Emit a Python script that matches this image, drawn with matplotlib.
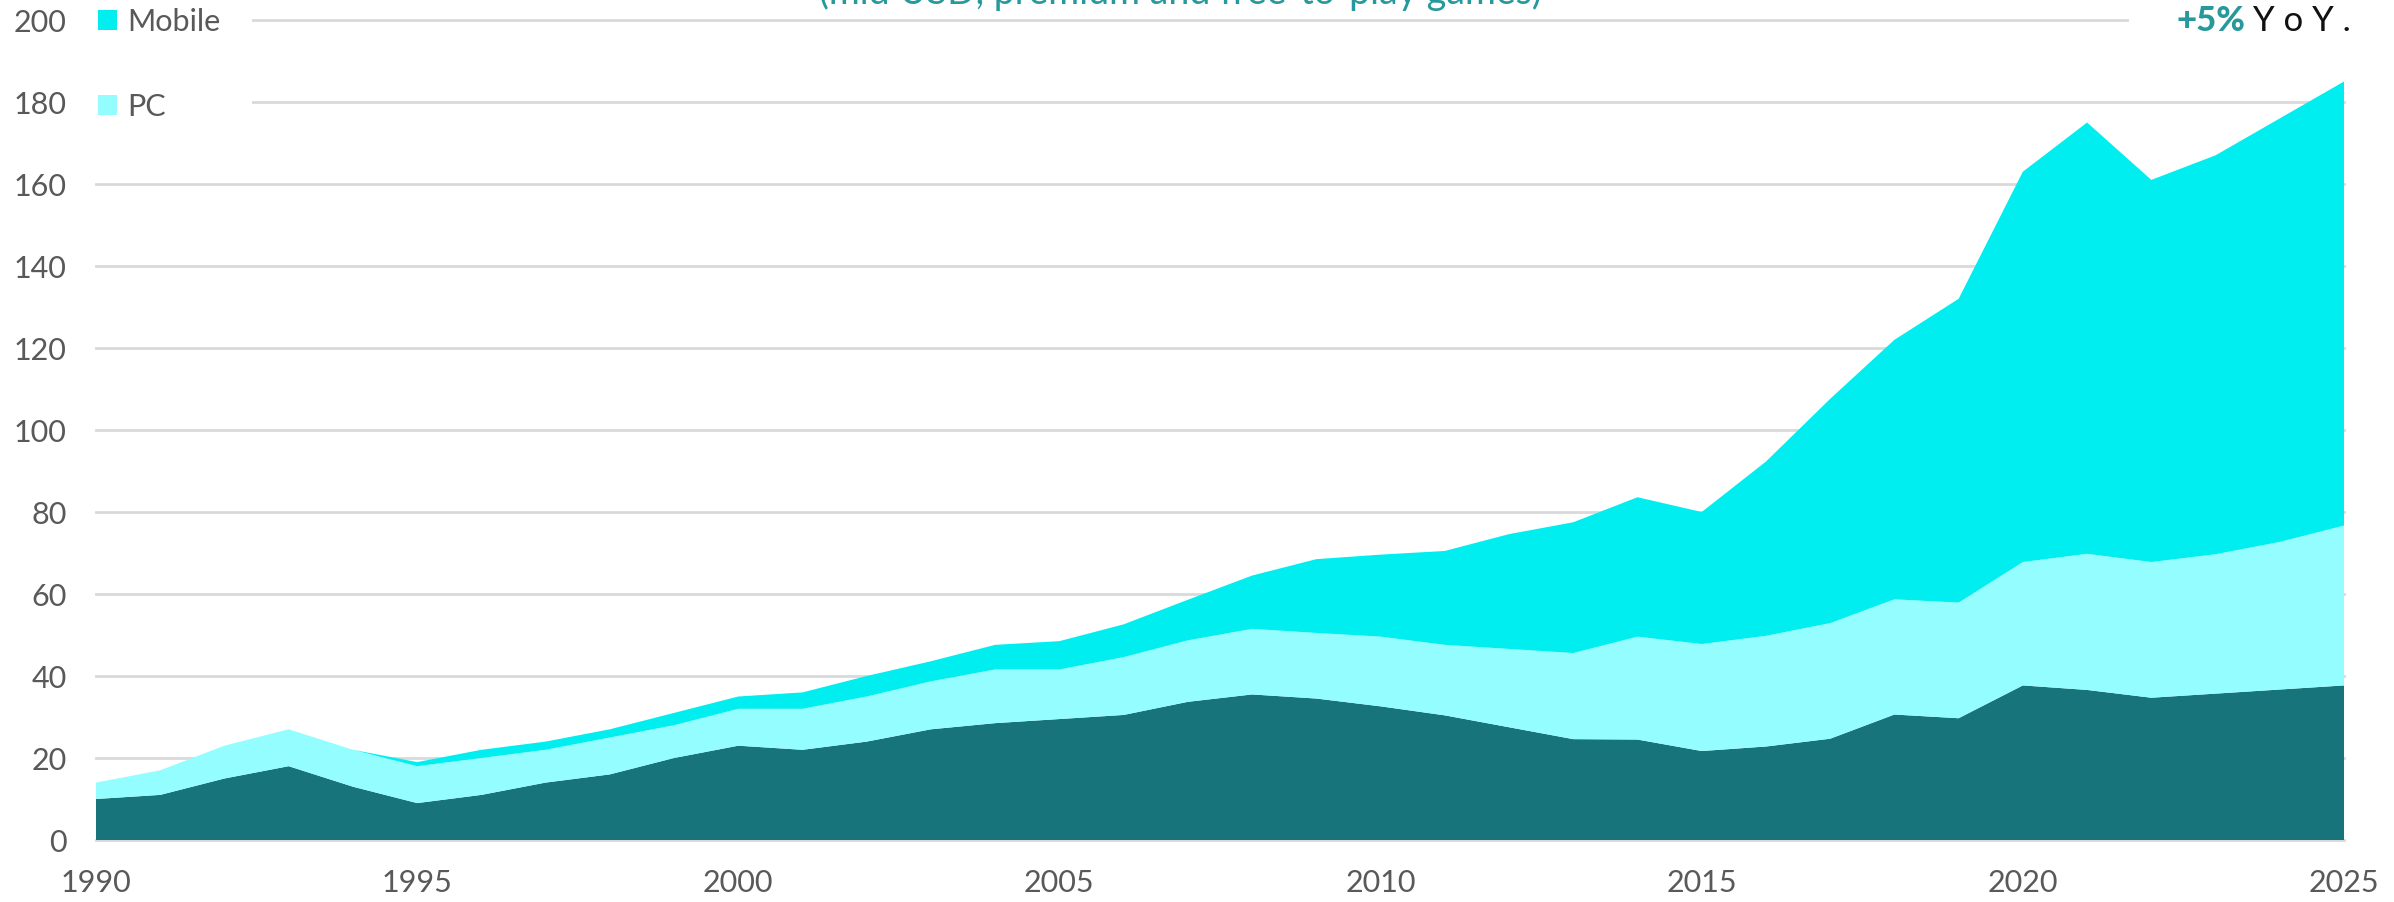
import matplotlib
matplotlib.use("Agg")
import matplotlib.pyplot as plt
from matplotlib.patches import Patch

years = list(range(1990, 2026))
console = [10, 11, 15, 18, 13, 9, 11, 14, 16, 20, 23, 22, 24, 27, 28.5, 29.5, 30.5, 33.7,
           35.5, 34.5, 32.6, 30.4, 27.5, 24.6, 24.5, 21.7, 22.8, 24.7, 30.6, 29.7, 37.7,
           36.6, 34.7, 35.7, 36.7, 37.7]
pc = [4, 6, 8, 9, 9, 9, 9, 8, 9, 8, 9, 10, 11, 11.7, 13.1, 12.1, 14.1, 15.0, 16.0, 16.0,
      17.0, 17.2, 19.1, 21.0, 25.1, 26.1, 27.0, 28.2, 28.1, 28.2, 30.1, 33.2, 33.1, 34.0,
      36.0, 39.0]
mobile = [0, 0, 0, 0, 0, 1, 2, 2, 2, 3, 3, 4, 5, 4.9, 6.0, 6.9, 8.0, 9.9, 13.0, 18.0,
          20.0, 22.9, 28.0, 31.9, 34.0, 32.2, 42.5, 54.7, 63.3, 74.1, 95.2, 105.2, 93.2,
          97.3, 103.3, 108.3]
y_ticks = list(range(0, 201, 20))
x_ticks = list(range(1990, 2026, 5))
legend_labels = ["Mobile", "PC"]
title_text = "(mld USD, premium and free-to-play games)"

C_CONSOLE = "#16747a"
C_PC = "#93fdff"
C_MOBILE = "#00eef0"
C_TEAL = "#27999c"
C_TICK = "#595959"
C_GRID = "#d9d9d9"

plt.rcParams["font.family"] = ["Lato", "DejaVu Sans"]

W, H = 2394, 902
fig = plt.figure(figsize=(W / 100, H / 100), dpi=100)
ax = fig.add_axes([96 / W, 1 - 840 / H, (2344 - 96) / W, (840 - 20) / H])

ax.stackplot(years, console, pc, mobile, colors=[C_CONSOLE, C_PC, C_MOBILE],
             linewidth=0, zorder=2)
ax.set_xlim(1990, 2025)
ax.set_ylim(0, 200)

for v in y_ticks:
    xmin = (253 - 96) / (2344 - 96) if v >= 180 else 0
    xmax = (2127 - 96) / (2344 - 96) if v == 200 else 1
    ax.axhline(v, xmin=xmin, xmax=xmax, color=C_GRID, lw=2, zorder=1, clip_on=False)

for s in ax.spines.values():
    s.set_visible(False)
ax.set_yticks(y_ticks)
ax.set_xticks(x_ticks)
ax.tick_params(axis="both", length=0, labelsize=22, labelcolor=C_TICK)
ax.tick_params(axis="y", pad=21)
ax.tick_params(axis="x", pad=21)

handles = [Patch(facecolor=C_MOBILE, edgecolor="none"),
           Patch(facecolor=C_PC, edgecolor="none")]
leg = ax.legend(handles, legend_labels, loc="upper left",
                bbox_to_anchor=(98 / W, 1 - 8 / H), bbox_transform=fig.transFigure,
                frameon=False, fontsize=22, handlelength=0.62, handleheight=0.62,
                handletextpad=0.35, labelspacing=1.85, borderaxespad=0, borderpad=0)
for t in leg.get_texts():
    t.set_color(C_TICK)

fig.text(1180 / W, 1 - 4 / H, title_text, ha="center", va="baseline",
         fontsize=27, color=C_TEAL)

t1 = fig.text(2176 / W, 1 - 31 / H, "+5%", ha="left", va="baseline",
              fontsize=25, color=C_TEAL, fontweight="black")
fig.canvas.draw()
bb = t1.get_window_extent()
fig.text((bb.x1 + 8) / W, 1 - 31 / H, "Y o Y .", ha="left", va="baseline",
         fontsize=25, color="#111111")

fig.savefig("out.png", dpi=100, facecolor="white")
